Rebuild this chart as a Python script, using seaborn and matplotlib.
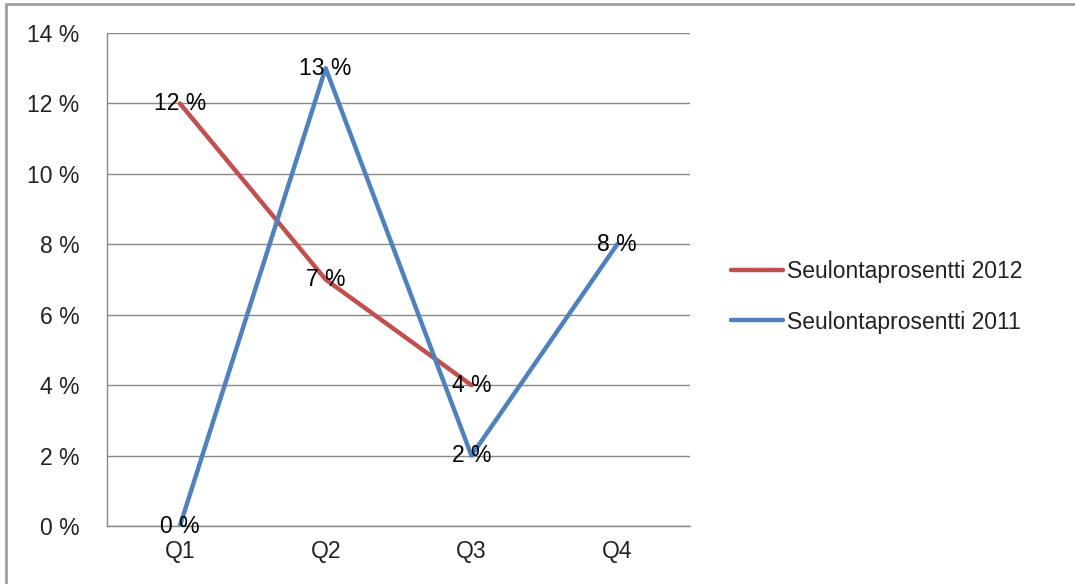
import pandas as pd
import numpy as np
import matplotlib
matplotlib.use('Agg')
import matplotlib.pyplot as plt
import seaborn as sns
from matplotlib.patches import Rectangle

# data (percent)
quarters = ['Q1', 'Q2', 'Q3', 'Q4']
series_names = ['Seulontaprosentti 2012', 'Seulontaprosentti 2011']
values_2012 = [12, 7, 4, None]
values_2011 = [0, 13, 2, 8]
y_ticks = [0, 2, 4, 6, 8, 10, 12, 14]

rows = []
for name, vals in zip(series_names, [values_2012, values_2011]):
    for q, v in zip(quarters, vals):
        if v is not None:
            rows.append({'Quarter': q, 'Value': v, 'Series': name})
df = pd.DataFrame(rows)
df['pos'] = df['Quarter'].map({q: i for i, q in enumerate(quarters)})

sns.set_style('white')
plt.rcParams['font.family'] = ['Liberation Sans', 'DejaVu Sans']
FS = 16.5

fig = plt.figure(figsize=(10.75, 5.84), dpi=100)
ax = fig.add_axes([0.0995, 0.0993, 0.5425, 0.8442])

palette = {series_names[0]: '#C0504D', series_names[1]: '#4F81BD'}
sns.lineplot(data=df, x='pos', y='Value', hue='Series', hue_order=series_names,
             palette=palette, linewidth=3.2, ax=ax, legend=True)

# data labels centred on points
for name, vals in zip(series_names, [values_2012, values_2011]):
    for i, v in enumerate(vals):
        if v is not None:
            ax.text(i, v, f'{v} %', ha='center', va='center', fontsize=FS, color='black')

ax.set_xlim(-0.5, 3.5)
ax.set_ylim(0, 14)
ax.set_yticks(y_ticks)
ax.set_yticklabels([f'{t} %' for t in y_ticks], fontsize=FS, color='#222222')
ax.set_xticks(range(len(quarters)))
ax.set_xticklabels(quarters, fontsize=FS, color='#222222')
ax.set_xticks([-0.5, 0.5, 1.5, 2.5, 3.5], minor=True)
ax.tick_params(axis='x', which='major', length=0, pad=10)
ax.tick_params(axis='x', which='minor', length=6, color='#888888', direction='out', width=1)
ax.tick_params(axis='y', length=7, color='#888888', direction='out', width=1, pad=13)
ax.set_xlabel('')
ax.set_ylabel('')
ax.grid(axis='y', color='#888888', linewidth=1)
ax.set_axisbelow(True)
for s in ['top', 'right']:
    ax.spines[s].set_visible(False)
for s in ['left', 'bottom']:
    ax.spines[s].set_color('#888888')
    ax.spines[s].set_linewidth(1)

leg = ax.legend(loc='center left', bbox_to_anchor=(1.034, 0.465), frameon=False,
                fontsize=FS, handlelength=2.3, handletextpad=0.15, labelspacing=1.2)
for t in leg.get_texts():
    t.set_color('#222222')

# outer chart border
fig.patches.append(Rectangle((6 / 1075, -0.1), 1.2, 1 - 4 / 584 + 0.1,
                             transform=fig.transFigure, fill=False,
                             edgecolor='#a0a0a0', linewidth=2))

fig.savefig('out.png', dpi=100)
